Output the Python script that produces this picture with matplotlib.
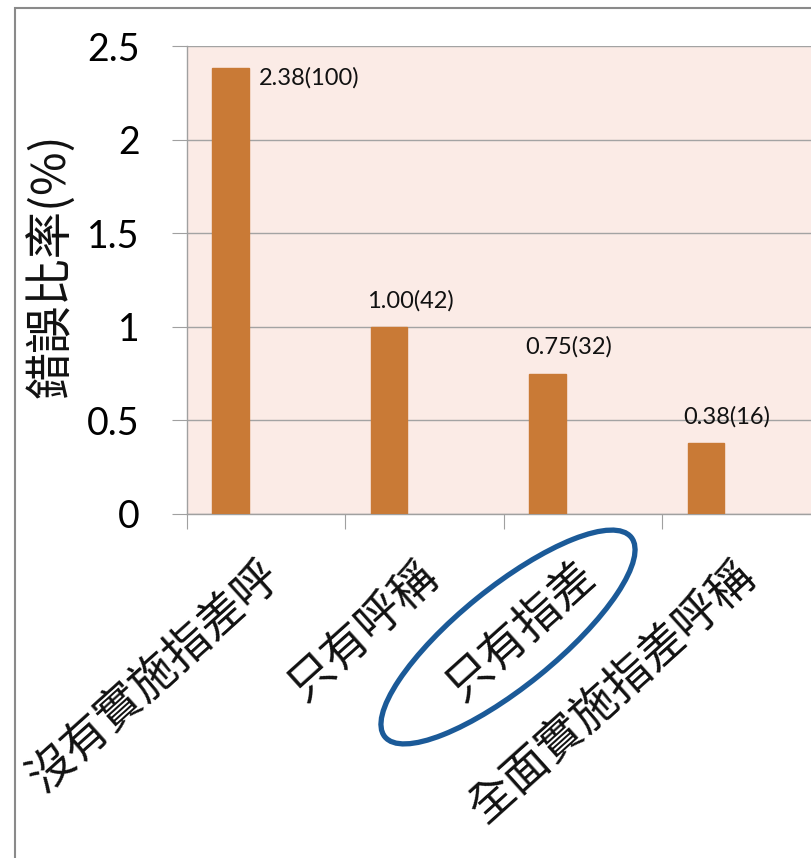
import matplotlib
matplotlib.use("Agg")
import matplotlib.pyplot as plt
from matplotlib.patches import Ellipse, Rectangle
import numpy as np

plt.rcParams['font.family'] = ['Noto Sans CJK TC', 'DejaVu Sans']

# ---- data ----
categories = ["沒有實施指差呼", "只有呼稱", "只有指差", "全面實施指差呼稱"]
error_rates = [2.38, 1.00, 0.75, 0.38]
relative = [100, 42, 32, 16]
y_ticks = [0, 0.5, 1, 1.5, 2, 2.5]
y_tick_labels = ["0", "0.5", "1", "1.5", "2", "2.5"]
y_label = "錯誤比率(%)"
highlight_index = 2

W, H = 812, 858
DPI = 100
fig = plt.figure(figsize=(W / DPI, H / DPI), dpi=DPI)

# outer frame
fig.patches.append(Rectangle((15 / W, -0.05), 1.1, (858 - 8) / H + 0.05,
                             transform=fig.transFigure, fill=False,
                             edgecolor='#8a8a8a', linewidth=1.5))

left, right, top, bottom = 187, 821, 46, 514
ax = fig.add_axes([left / W, 1 - bottom / H, (right - left) / W, (bottom - top) / H])
ax.set_facecolor('#fbebe6')

x = np.arange(len(categories))
bar_offset = -0.225
bar_w = 0.23
bars = ax.bar(x + bar_offset, error_rates, width=bar_w, color='#c97a36',
              edgecolor='#c97a36', zorder=3)

ax.set_xlim(-0.5, len(categories) - 0.5)
ax.set_ylim(0, 2.5)
ax.set_yticks(y_ticks)
ax.set_yticklabels(y_tick_labels, family=['Lato', 'DejaVu Sans'], fontsize=27)
ax.yaxis.grid(True, color='#a3a3a3', linewidth=1.0, zorder=1)
ax.set_axisbelow(True)

for s in ['top', 'right']:
    ax.spines[s].set_visible(False)
for s in ['left', 'bottom']:
    ax.spines[s].set_color('#a0a0a0')
    ax.spines[s].set_linewidth(1.0)

ax.tick_params(axis='y', length=11, color='#a0a0a0', pad=23)
ax.set_xticks(np.arange(len(categories) + 1) - 0.5)
ax.set_xticklabels([])
ax.tick_params(axis='x', length=11, color='#a0a0a0')

# category labels (rotated)
for i, lab in enumerate(categories):
    ax.annotate(lab, xy=(i, 0), xycoords='data', xytext=(-7, -27),
                textcoords='offset points', rotation=42, rotation_mode='anchor',
                ha='right', va='top', fontsize=33, color='#111111',
                annotation_clip=False)

# value labels
for i, (v, r) in enumerate(zip(error_rates, relative)):
    txt = f"{v:.2f}({r})"
    if i == 0:
        ax.annotate(txt, xy=(i + bar_offset + bar_w / 2, v), xytext=(7, -7),
                    textcoords='offset points', ha='left', va='center',
                    fontsize=17, family=['Lato', 'DejaVu Sans'], color='#111111')
    else:
        ax.annotate(txt, xy=(i + bar_offset, v), xytext=(15, 19),
                    textcoords='offset points', ha='center', va='center',
                    fontsize=17, family=['Lato', 'DejaVu Sans'], color='#111111')

# y label
fig.text(52 / W, 1 - 266 / H, y_label, rotation=90, ha='center', va='center',
         fontsize=34, color='#111111')

# highlight ellipse around the highlighted category label
ell = Ellipse((5.08, (H - 637) / DPI), 3.17, 0.99, angle=39,
              transform=fig.dpi_scale_trans, fill=False,
              edgecolor='#1b5a98', linewidth=3.8, zorder=10)
fig.patches.append(ell)

fig.savefig("out.png", dpi=DPI)
